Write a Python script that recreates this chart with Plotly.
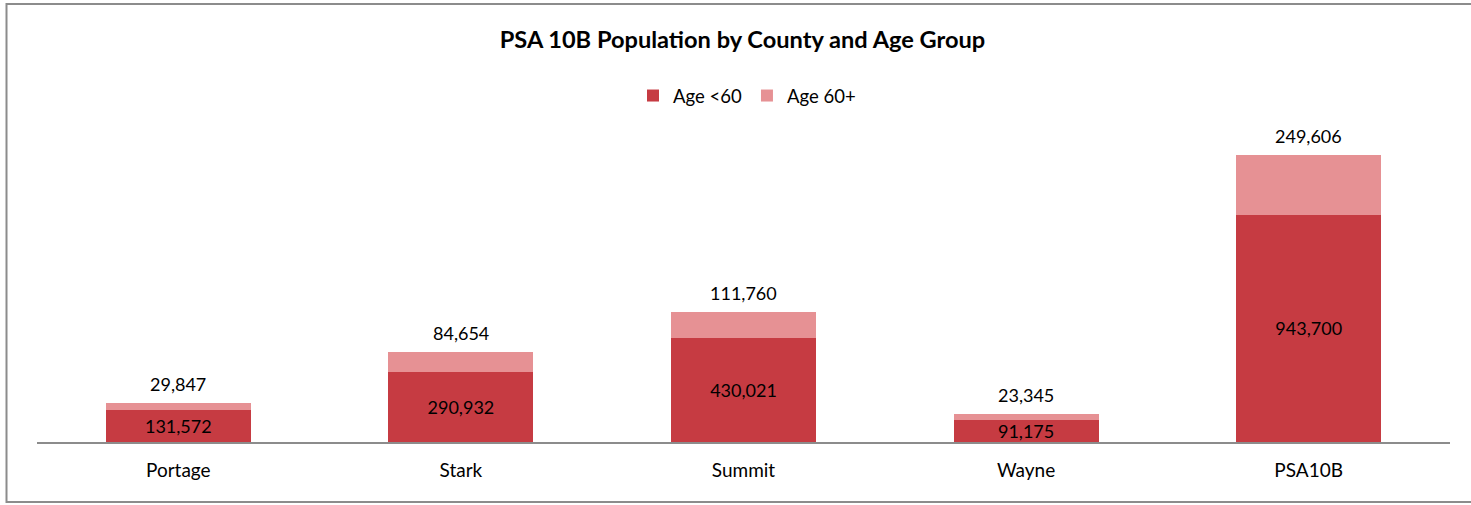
import plotly.graph_objects as go

categories = ["Portage", "Stark", "Summit", "Wayne", "PSA10B"]
age_under_60 = [131572, 290932, 430021, 91175, 943700]
age_60_plus = [29847, 84654, 111760, 23345, 249606]
series_names = ["Age <60", "Age 60+"]

totals = [a + b for a, b in zip(age_under_60, age_60_plus)]
fmt = lambda v: f"{v:,}"

FONT = "Lato"
W, H = 1471, 505
L, R, T, B = 37, 21, 105, 63
pw, ph = W - L - R, H - T - B

def px_x(x):
    return (x - L) / pw

def px_y(y):
    return (H - B - y) / ph

fig = go.Figure()
fig.add_trace(go.Bar(
    x=categories, y=age_under_60, name=series_names[0],
    marker=dict(color="#C63B42", line=dict(width=0)),
    text=[fmt(v) for v in age_under_60], textposition="inside",
    insidetextanchor="middle", constraintext="none",
    textfont=dict(family=FONT, size=18, color="#000000"),
    hoverinfo="x+y",
))
fig.add_trace(go.Bar(
    x=categories, y=age_60_plus, name=series_names[1],
    marker=dict(color="#E69194", line=dict(width=0)),
    textposition="none", hoverinfo="x+y",
))

for c, tot, v in zip(categories, totals, age_60_plus):
    fig.add_annotation(x=c, y=tot, text=fmt(v), showarrow=False,
                       yanchor="middle", yshift=19,
                       font=dict(family=FONT, size=18, color="#000000"))

fig.add_shape(type="rect", xref="paper", yref="paper",
              x0=px_x(6.5), x1=px_x(1480), y0=px_y(4), y1=px_y(502),
              line=dict(color="#8C8C8C", width=2), layer="below")

fig.update_layout(
    width=W, height=H,
    margin=dict(l=L, r=R, t=T, b=B, autoexpand=False),
    paper_bgcolor="white", plot_bgcolor="white",
    barmode="stack", bargap=0.487,
    font=dict(family=FONT, size=18, color="#000000"),
    title=dict(text="<b>PSA 10B Population by County and Age Group</b>",
               x=742.5 / W, xanchor="center", xref="container",
               y=1 - 40 / H, yanchor="middle", yref="container",
               font=dict(family=FONT, size=23.6, color="#000000")),
    legend=dict(orientation="h", x=747 / W, xanchor="center", xref="container",
                y=1 - 96 / H, yanchor="middle", yref="container",
                font=dict(family=FONT, size=18.5, color="#000000"),
                itemwidth=30, traceorder="normal"),
    showlegend=True,
    xaxis=dict(showline=True, linecolor="#8C8C8C", linewidth=2,
               ticks="", showgrid=False, tickfont=dict(family=FONT, size=19),
               ticklabelstandoff=10, automargin=False),
    yaxis=dict(range=[0, 1400000], visible=False, showgrid=False,
               automargin=False),
)

fig.write_html("out.html", config={"displayModeBar": False},
               post_script="document.body.style.margin='0';")
